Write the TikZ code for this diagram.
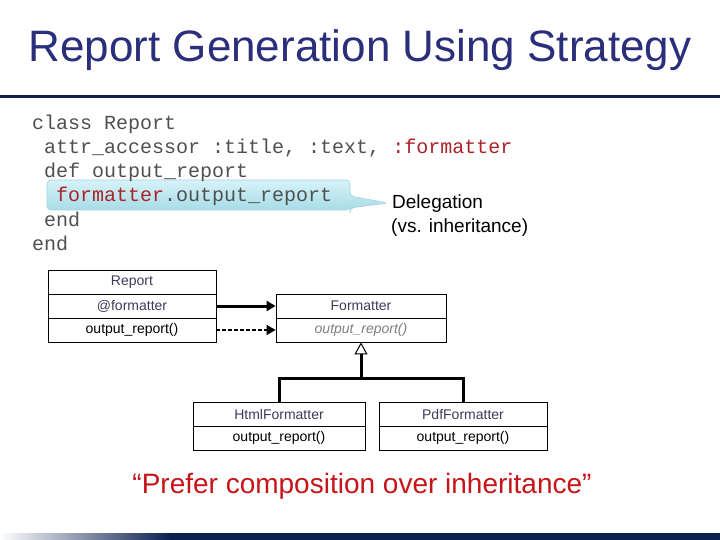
\documentclass[tikz,border=0pt]{standalone}
\usepackage{fontspec}
\setmainfont{Liberation Sans}
\newfontfamily\codefont{Liberation Mono}
\usetikzlibrary{arrows.meta}
\definecolor{titleblue}{RGB}{43,46,122}
\definecolor{rulenavy}{RGB}{12,32,80}
\definecolor{codegray}{RGB}{80,80,80}
\definecolor{codered}{RGB}{170,35,40}
\definecolor{quotered}{RGB}{200,20,25}
\definecolor{umllabel}{RGB}{60,60,90}
\definecolor{callouttop}{RGB}{214,243,248}
\definecolor{calloutbot}{RGB}{168,220,230}
\definecolor{calloutedge}{RGB}{160,212,224}
\tikzset{
  codeline/.style={anchor=base west, inner sep=0pt, font=\codefont\fontsize{20}{24}\selectfont, text=codegray},
  note/.style={anchor=base west, inner sep=0pt, font=\fontsize{19}{23}\selectfont, text=black},
  umlbox/.style={draw=black, line width=0.8pt, minimum height=24pt, inner sep=0pt, font=\fontsize{14}{16}\selectfont},
  thickarrow/.style={line width=3pt, -{Triangle[length=9pt,width=10pt]}},
  dasharrow/.style={line width=1.3pt, dashed, dash pattern=on 4pt off 2pt, -{Triangle[length=9pt,width=10pt]}},
  inherit/.style={line width=3pt},
}
\begin{document}
\begin{tikzpicture}[x=1pt,y=-1pt]
\useasboundingbox (0,0) rectangle (720,540);
\fill[white] (0,0) rectangle (720,540);
% title
\node[anchor=base, inner sep=0pt, font=\fontsize{44}{50}\selectfont, text=titleblue] (title) at (360,62) {Report Generation Using Strategy};
\fill[rulenavy] (0,95) rectangle (720,98);
% callout
\shade[top color=callouttop, bottom color=calloutbot, draw=calloutedge, line width=0.6pt, rounded corners=4pt]
  (47,180) -- (350,180) -- (350,196) -- (388,203) -- (350,208) -- (350,210) -- (47,210) -- cycle;
% code
\node[codeline] (c1) at (32,130) {class Report};
\node[codeline] (c2) at (44,154) {attr\_accessor :title, :text, \textcolor{codered}{:formatter}};
\node[codeline] (c3) at (44,178) {def output\_report};
\node[codeline] (c4) at (56,202) {\textcolor{codered}{formatter}.output\_report};
\node[codeline] (c5) at (44,226) {end};
\node[codeline] (c6) at (32,250) {end};
% note
\node[note] (n1) at (392,209) {Delegation};
\node[note] (n2) at (391,233) {(vs. inheritance)};
% UML
\node[umlbox, minimum width=168pt, text=umllabel] (rptA) at (132,282) {Report};
\node[umlbox, minimum width=168pt, text=umllabel] (rptB) at (132,306) {@formatter};
\node[umlbox, minimum width=168pt, text=black] (rptC) at (132,330) {output\_report()};
\node[umlbox, minimum width=170pt, text=umllabel] (fmtA) at (361,306) {Formatter};
\node[umlbox, minimum width=170pt, text=gray, font=\fontsize{14}{16}\selectfont\itshape] (fmtB) at (361,330) {output\_report()};
\node[umlbox, minimum width=172pt, text=umllabel] (htA) at (279,414) {HtmlFormatter};
\node[umlbox, minimum width=172pt, text=black] (htB) at (279,438) {output\_report()};
\node[umlbox, minimum width=168pt, text=umllabel] (pdA) at (463,414) {PdfFormatter};
\node[umlbox, minimum width=168pt, text=black] (pdB) at (463,438) {output\_report()};
\draw[thickarrow] (rptB.east) -- (fmtA.west);
\draw[dasharrow] (rptC.east) -- (fmtB.west);
\coordinate (bar) at (361,379);
\draw[inherit] (htA.north) -- ++(0,-23) -| (pdA.north);
\draw[inherit, -{Triangle[open, length=12pt, width=13pt, line width=1pt]}] (bar) -- (fmtB.south);
% quote
\node[anchor=base, inner sep=0pt, font=\fontsize{28}{32}\selectfont, text=quotered] (quote) at (362,493) {“Prefer composition over inheritance”};
% bottom bar
\shade[left color=white, right color=rulenavy] (0,533) rectangle (170,540);
\fill[rulenavy] (170,533) rectangle (720,540);
\end{tikzpicture}
\end{document}
